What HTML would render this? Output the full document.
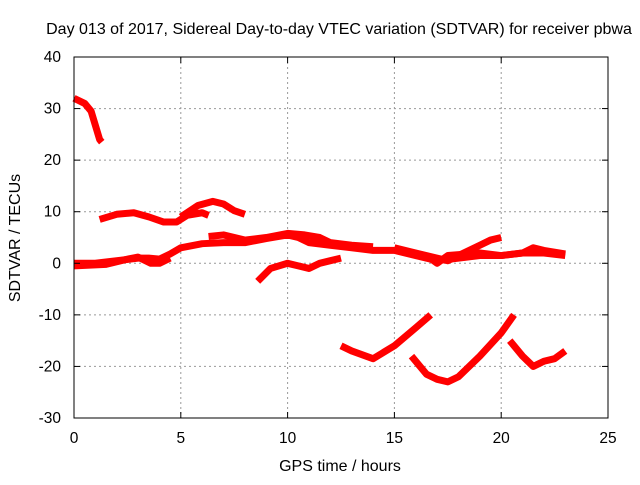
<!DOCTYPE html>
<html><head><meta charset="utf-8"><style>
body{margin:0;background:#fff}
svg text{font-family:"Liberation Sans",sans-serif;font-size:15.5px;fill:#000}
</style></head><body>
<svg width="640" height="480">
<text x="339" y="34" text-anchor="middle" style="font-size:16px">Day 013 of 2017, Sidereal Day-to-day VTEC variation (SDTVAR) for receiver pbwa</text>
<g id="grid"></g>
<g id="series"></g>
<rect x="74" y="57" width="534" height="361" fill="none" stroke="#000"/>
<g id="ticks"></g>
<text x="340" y="471" text-anchor="middle" style="font-size:16px">GPS time / hours</text>
<text transform="translate(20,238) rotate(-90)" text-anchor="middle" style="font-size:16px">SDTVAR / TECUs</text>
</svg>
<script>
const xTicks=[0,5,10,15,20,25];
const yTicks=[40,30,20,10,0,-10,-20,-30];
const s1=[[0,32],[0.5,31],[0.8,29.5],[1.2,24],[1.3,23.5]];
const s2=[[1.2,8.5],[2,9.5],[2.8,9.8],[3.5,9],[4.2,8],[4.8,8],[5.3,9.3],[6,9.8],[6.3,9.3]];
const s2b=[[5,9],[5.8,11.2],[6.5,12],[7,11.5],[7.5,10.2],[8,9.5]];
const s3=[[0,0],[1,0],[2,0.5],[3,1],[3.5,1],[4,0.8],[4.5,1.8],[5,3],[6,3.8],[7,4],[8,4],[9,4.8],[10,5.5],[10.5,5],[11,4],[12,3.5],[13,3],[14,2.5],[15,2.5],[16,1.5],[17,0.5],[18,1],[19,1.5],[20,1.5],[21,2],[22,2],[23,1.5]];
const s3b=[[0,-0.5],[1.5,-0.2],[2.5,0.8],[3,1.2],[3.6,0],[4,0],[4.5,1]];
const s4=[[6.3,5.2],[7,5.5],[8,4.5],[9,5],[10,5.8],[10.8,5.5],[11.5,5],[12,4],[13,3.5],[14,3.2]];
const s5=[[8.6,-3.5],[9.2,-1],[10,0],[10.5,-0.5],[11,-1],[11.5,0],[12,0.5],[12.5,1]];
const s6=[[15,3],[16,2],[17,1],[17.5,0.5],[18,1.5],[19,3.5],[19.5,4.5],[20,5]];
const s6b=[[16.5,1.5],[17,0],[17.5,1.5],[19,2],[20,1.5],[21,2],[21.5,3],[22,2.5],[23,1.8]];
const s7=[[12.5,-16],[13,-17],[14,-18.5],[15,-16],[16,-12.5],[16.7,-10]];
const s8=[[15.8,-18],[16.5,-21.5],[17,-22.5],[17.5,-23],[18,-22],[19,-18],[20,-13.5],[20.6,-10]];
const s9=[[20.4,-15],[21,-18],[21.5,-20],[22,-19],[22.5,-18.5],[23,-17]];
const allSeries=[s1,s2,s2b,s3,s3b,s4,s5,s6,s6b,s7,s8,s9];
const X=v=>74+v*(534/25), Y=v=>418-(v+30)*(361/70);
const NS='http://www.w3.org/2000/svg';
const grid=document.getElementById('grid'),ticks=document.getElementById('ticks'),ser=document.getElementById('series');
function mk(p,tag,a){const e=document.createElementNS(NS,tag);for(const k in a)e.setAttribute(k,a[k]);p.appendChild(e);return e;}
xTicks.forEach(t=>{
 if(t>0&&t<25){const g=mk(grid,'line',{x1:X(t),x2:X(t),y1:57,y2:418,stroke:'#999','stroke-dasharray':'2,3'});
 
 }
 const tx=mk(ticks,'text',{x:X(t),y:443,'text-anchor':'middle'});tx.textContent=t;
 
 
 mk(ticks,'line',{x1:X(t),x2:X(t),y1:418,y2:412,stroke:'#000'});mk(ticks,'line',{x1:X(t),x2:X(t),y1:57,y2:63,stroke:'#000'});
});
yTicks.forEach(t=>{
 if(t>-30&&t<40){const g=mk(grid,'line',{x1:74,x2:608,y1:Y(t),y2:Y(t),stroke:'#999','stroke-dasharray':'2,3'});
 
 }
 const tx=mk(ticks,'text',{x:61,y:Y(t)+5,'text-anchor':'end'});tx.textContent=t;
 
 
 mk(ticks,'line',{x1:74,x2:80,y1:Y(t),y2:Y(t),stroke:'#000'});mk(ticks,'line',{x1:602,x2:608,y1:Y(t),y2:Y(t),stroke:'#000'});
});
allSeries.forEach(s=>{
 const pl=mk(ser,'polyline',{points:s.map(p=>X(p[0])+','+Y(p[1])).join(' '),fill:'none',stroke:'#f00','stroke-width':7,'stroke-linejoin':'round'});
 
 
});
</script>
</body></html>
